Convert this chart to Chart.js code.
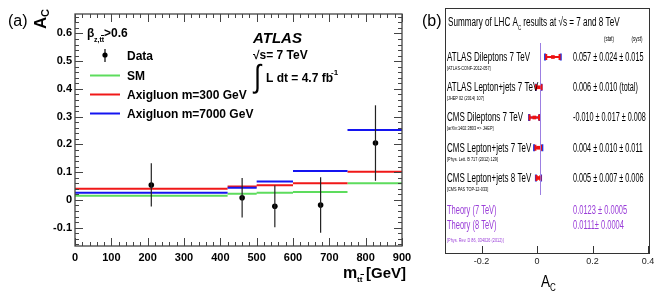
<html>
<head>
  <meta charset="utf-8">
  <title>Charge asymmetry A_C</title>
  <script src="https://cdn.jsdelivr.net/npm/chart.js"></script>
  <style>
    body { margin: 0; background: #fff; width: 664px; height: 294px; overflow: hidden; }
    canvas { position: absolute; top: 0; }
    #ca { left: 0; }
    #cb { left: 420px; }
  </style>
</head>
<body>
<canvas id="ca" width="420" height="294"></canvas>
<canvas id="cb" width="244" height="294"></canvas>

<script>
// ---- panel (a): A_C vs m_tt ----
const binEdges = [0, 420, 500, 600, 750, 900];
const smValues = [0.015, 0.022, 0.026, 0.029, 0.060];
const axi300Values = [0.040, 0.048, 0.053, 0.060, 0.102];
const axi7000Values = [0.026, 0.044, 0.066, 0.104, 0.252];
const dataX = [210, 460, 550, 676, 827];
const dataY = [0.054, 0.008, -0.023, -0.018, 0.205];
const dataErr = [0.078, 0.071, 0.075, 0.100, 0.136];
const yTickValues = [-0.1, 0, 0.1, 0.2, 0.3, 0.4, 0.5, 0.6];

// ---- panel (b): summary of LHC results ----
const resultNames = ['ATLAS Dileptons 7 TeV', 'ATLAS Lepton+jets 7 TeV', 'CMS Dileptons 7 TeV',
  'CMS Lepton+jets 7 TeV', 'CMS Lepton+jets 8 TeV'];
const resultRefs = ['[ATLAS-CONF-2012-057]', '[JHEP 02 (2014) 107]', '[arXiv:1402.3803 => JHEP]',
  '[Phys. Lett. B 717 (2012) 129]', '[CMS PAS TOP-12-033]'];
const resultValues = [0.057, 0.006, -0.010, 0.004, 0.005];
const resultStat = [0.024, 0.010, 0.017, 0.010, 0.007];
const resultSyst = [0.015, 0, 0.008, 0.011, 0.006];
const resultText = ['0.057 \u00b1 0.024 \u00b1 0.015', '0.006 \u00b1 0.010 (total)',
  '-0.010 \u00b1 0.017 \u00b1 0.008', '0.004 \u00b1 0.010 \u00b1 0.011', '0.005 \u00b1 0.007 \u00b1 0.006'];
const theoryNames = ['Theory (7 TeV)', 'Theory (8 TeV)'];
const theoryText = ['0.0123 \u00b1 0.0005', '0.0111\u00b1 0.0004'];
const theoryValue = 0.0123;
const theoryRows = [-0.46, 4.56];
const bTickValues = [-0.2, 0, 0.2, 0.4];

const SANS = '"Liberation Sans", Arial, sans-serif';
const PURPLE = '#9a3ed8';

function stepDataset(values, color, order) {
  const pts = [];
  values.forEach((v, i) => {
    pts.push({x: binEdges[i], y: v}, {x: binEdges[i + 1], y: v}, {x: binEdges[i + 1], y: null});
  });
  return {type: 'line', data: pts, borderColor: color, borderWidth: 2, pointRadius: 0,
    fill: false, tension: 0, spanGaps: false, order: order};
}

function txt(ctx, s, x, y, font, color, sx, align) {
  ctx.save();
  ctx.translate(x, y);
  ctx.scale(sx || 1, 1);
  ctx.font = font;
  ctx.fillStyle = color || '#000';
  ctx.textAlign = align || 'left';
  ctx.textBaseline = 'alphabetic';
  ctx.fillText(s, 0, 0);
  const w = ctx.measureText(s).width * (sx || 1);
  ctx.restore();
  return w;
}

const panelA = {
  id: 'panelA',
  afterDatasetsDraw(chart) {
    const ctx = chart.ctx, xs = chart.scales.x, ys = chart.scales.y;
    ctx.save();
    ctx.strokeStyle = '#222';
    ctx.lineWidth = 1.2;
    dataX.forEach((x, i) => {
      const px = xs.getPixelForValue(x);
      ctx.beginPath();
      ctx.moveTo(px, ys.getPixelForValue(dataY[i] + dataErr[i]));
      ctx.lineTo(px, ys.getPixelForValue(dataY[i] - dataErr[i]));
      ctx.stroke();
    });
    ctx.restore();
  },
  afterDraw(chart) {
    const ctx = chart.ctx, xs = chart.scales.x, ys = chart.scales.y;
    const {left, right, top, bottom} = chart.chartArea;
    ctx.save();
    ctx.strokeStyle = '#444';
    ctx.lineWidth = 1.3;
    ctx.strokeRect(left, top, right - left, bottom - top);
    ctx.lineWidth = 1;
    ctx.beginPath();
    for (let v = 0; v <= 900; v += 20) {
      const px = Math.round(xs.getPixelForValue(v)) + 0.5;
      const len = v % 100 === 0 ? 8 : 4;
      ctx.moveTo(px, bottom); ctx.lineTo(px, bottom - len);
      ctx.moveTo(px, top); ctx.lineTo(px, top + len);
    }
    for (let k = -8; k <= 33; k++) {
      const py = Math.round(ys.getPixelForValue(k * 0.02)) + 0.5;
      const len = k % 5 === 0 ? 8 : 4;
      ctx.moveTo(left, py); ctx.lineTo(left + len, py);
      ctx.moveTo(right, py); ctx.lineTo(right - len, py);
    }
    ctx.stroke();

    // labels
    txt(ctx, '(a)', 8, 26, '16px ' + SANS, '#000');
    ctx.save();
    ctx.translate(46, 29);
    ctx.rotate(-Math.PI / 2);
    txt(ctx, 'A', 0, 0, 'bold 17px ' + SANS, '#000');
    txt(ctx, 'C', 12, 3, 'bold 11px ' + SANS, '#000');
    ctx.restore();

    // x title
    txt(ctx, 'm', 343, 278, 'bold 16px ' + SANS, '#000');
    txt(ctx, 'tt', 357, 282, 'bold 8px ' + SANS, '#000');
    ctx.strokeStyle = '#000';
    ctx.beginPath(); ctx.moveTo(360.5, 274.5); ctx.lineTo(364, 274.5); ctx.stroke();
    txt(ctx, '[GeV]', 366, 278, 'bold 15px ' + SANS, '#000');

    // legend
    txt(ctx, '\u03b2', 87, 37, 'bold 12px ' + SANS, '#000');
    txt(ctx, 'z,tt', 94, 42, 'bold 7px ' + SANS, '#000');
    ctx.beginPath(); ctx.moveTo(101, 35.5); ctx.lineTo(104, 35.5); ctx.stroke();
    txt(ctx, '>0.6', 104, 37, 'bold 12px ' + SANS, '#000');

    ctx.lineWidth = 1.2;
    ctx.beginPath(); ctx.moveTo(105, 49); ctx.lineTo(105, 62); ctx.stroke();
    ctx.fillStyle = '#000';
    ctx.beginPath(); ctx.arc(105, 55, 2.6, 0, Math.PI * 2); ctx.fill();
    txt(ctx, 'Data', 127, 60, 'bold 12px ' + SANS, '#000');
    const leg = [['SM', '#5ddc5d', 75.5], ['Axigluon m=300 GeV', '#f01818', 94.5], ['Axigluon m=7000 GeV', '#1414f0', 113.5]];
    leg.forEach(([label, color, y]) => {
      ctx.strokeStyle = color; ctx.lineWidth = 2;
      ctx.beginPath(); ctx.moveTo(90, y); ctx.lineTo(120, y); ctx.stroke();
      txt(ctx, label, 127, y + 4, 'bold 12px ' + SANS, '#000');
    });

    txt(ctx, 'ATLAS', 253, 43, 'italic bold 15px ' + SANS, '#000');
    txt(ctx, '\u221as= 7 TeV', 253, 59, 'bold 12px ' + SANS, '#000');
    txt(ctx, '\u222b', 254, 87, '32px ' + SANS, '#000', 0.8);
    txt(ctx, 'L dt = 4.7 fb', 266, 82, 'bold 12px ' + SANS, '#000');
    txt(ctx, '-1', 331, 75, 'bold 8px ' + SANS, '#000');
    ctx.restore();
  }
};

new Chart(document.getElementById('ca'), {
  type: 'line',
  data: {
    datasets: [
      {type: 'scatter', data: dataX.map((x, i) => ({x: x, y: dataY[i]})), pointRadius: 2.8,
        pointBackgroundColor: '#000', pointBorderColor: '#000', pointBorderWidth: 0, order: 0},
      stepDataset(axi7000Values, '#1414f0', 1),
      stepDataset(axi300Values, '#f01818', 2),
      stepDataset(smValues, '#5ddc5d', 3)
    ]
  },
  options: {
    responsive: false,
    animation: false,
    plugins: {legend: {display: false}, tooltip: {enabled: false}},
    layout: {padding: {left: 0, right: 18, top: 14, bottom: 0}},
    scales: {
      x: {
        type: 'linear', min: 0, max: 900,
        afterFit: s => { s.height = 48; },
        grid: {display: false, drawTicks: false}, border: {display: false},
        ticks: {stepSize: 100, autoSkip: false, maxRotation: 0, padding: 5, color: '#000',
          font: {family: SANS, size: 11, weight: 'bold'}}
      },
      y: {
        type: 'linear', min: -0.166, max: 0.67,
        afterFit: s => { s.width = 75; },
        afterBuildTicks: s => { s.ticks = yTickValues.map(v => ({value: v})); },
        grid: {display: false, drawTicks: false}, border: {display: false},
        ticks: {padding: 3, color: '#000', font: {family: SANS, size: 11, weight: 'bold'},
          callback: v => Math.abs(v) < 1e-9 ? '0' : v.toFixed(1)}
      }
    }
  },
  plugins: [panelA]
});

// ---- panel (b) ----
const NARROW = 0.64;
const panelB = {
  id: 'panelB',
  beforeDatasetsDraw(chart) {
    const ctx = chart.ctx, xs = chart.scales.x, ys = chart.scales.y;
    ctx.save();
    resultValues.forEach((v, i) => {
      const py = ys.getPixelForValue(i);
      const tot = Math.sqrt(resultStat[i] ** 2 + resultSyst[i] ** 2);
      [[tot, '#2233dd', 3.5], [resultStat[i], '#ee1111', 3]].forEach(([e, color, h]) => {
        const x1 = xs.getPixelForValue(v - e), x2 = xs.getPixelForValue(v + e);
        ctx.strokeStyle = color; ctx.lineWidth = 2;
        ctx.beginPath();
        ctx.moveTo(x1, py); ctx.lineTo(x2, py);
        ctx.moveTo(x1, py - h); ctx.lineTo(x1, py + h);
        ctx.moveTo(x2, py - h); ctx.lineTo(x2, py + h);
        ctx.stroke();
      });
    });
    ctx.restore();
  },
  afterDraw(chart) {
    const ctx = chart.ctx, xs = chart.scales.x, ys = chart.scales.y;
    const {left, right, top, bottom} = chart.chartArea;
    ctx.save();
    ctx.strokeStyle = '#333';
    ctx.lineWidth = 1;
    ctx.strokeRect(left + 0.5, top + 0.5, right - left - 1, bottom - top);
    ctx.beginPath();
    bTickValues.forEach(v => {
      const px = Math.round(xs.getPixelForValue(v)) + 0.5;
      ctx.moveTo(px, bottom); ctx.lineTo(px, bottom - 7);
    });
    ctx.stroke();

    txt(ctx, '(b)', 2, 26, '16px ' + SANS, '#000');
    let x = 28;
    x += txt(ctx, 'Summary of LHC A', x, 26, '12.5px ' + SANS, '#000', 0.65);
    txt(ctx, 'C', x, 30, '7px ' + SANS, '#000', 0.65);
    x += 3;
    txt(ctx, ' results at \u221as = 7 and 8 TeV', x, 26, '12.5px ' + SANS, '#000', 0.65);
    txt(ctx, '(stat)', 189, 41, '7px ' + SANS, '#000', NARROW, 'center');
    txt(ctx, '(syst)', 217, 41, '7px ' + SANS, '#000', NARROW, 'center');

    resultNames.forEach((name, i) => {
      const py = ys.getPixelForValue(i);
      txt(ctx, name, 27, py + 4, '12.5px ' + SANS, '#000', NARROW);
      txt(ctx, resultRefs[i], 27, py + 13, '6px ' + SANS, '#000', NARROW);
      txt(ctx, resultText[i], 153, py + 4, '12.5px ' + SANS, '#000', 0.58);
    });
    theoryNames.forEach((name, i) => {
      txt(ctx, name, 27, 214 + i * 15, '12.5px ' + SANS, PURPLE, 0.6);
      txt(ctx, theoryText[i], 153, 214 + i * 15, '12.5px ' + SANS, PURPLE, 0.6);
    });
    txt(ctx, '[Phys. Rev. D 86, 034026 (2012)]', 27, 242, '6px ' + SANS, PURPLE, NARROW);

    txt(ctx, 'A', 121, 287, '17px ' + SANS, '#000', 0.8);
    txt(ctx, 'C', 130, 291, '10px ' + SANS, '#000', 0.8);
    ctx.restore();
  }
};

new Chart(document.getElementById('cb'), {
  type: 'scatter',
  data: {
    datasets: [
      {type: 'scatter', data: resultValues.map((v, i) => ({x: v, y: i})), pointStyle: 'rect',
        pointRadius: 2.6, pointBackgroundColor: '#ee1111', pointBorderColor: '#ee1111', pointBorderWidth: 0, order: 0},
      {type: 'line', data: theoryRows.map(r => ({x: theoryValue, y: r})), borderColor: '#9c7fe2',
        borderWidth: 1, pointRadius: 0, fill: false, order: 1}
    ]
  },
  options: {
    responsive: false,
    animation: false,
    plugins: {legend: {display: false}, tooltip: {enabled: false}},
    layout: {padding: {left: 25, right: 14, top: 8, bottom: 0}},
    scales: {
      x: {
        type: 'linear', min: -0.332, max: 0.407,
        afterFit: s => { s.height = 41; },
        afterBuildTicks: s => { s.ticks = bTickValues.map(v => ({value: v})); },
        grid: {display: false, drawTicks: false}, border: {display: false},
        ticks: {padding: 3, color: '#222', autoSkip: false, maxRotation: 0,
          font: {family: SANS, size: 9},
          callback: v => Math.abs(v) < 1e-9 ? '0' : v.toFixed(1)}
      },
      y: {type: 'linear', min: -1.62, max: 6.48, reverse: true, display: false}
    }
  },
  plugins: [panelB]
});
</script>
</body>
</html>
